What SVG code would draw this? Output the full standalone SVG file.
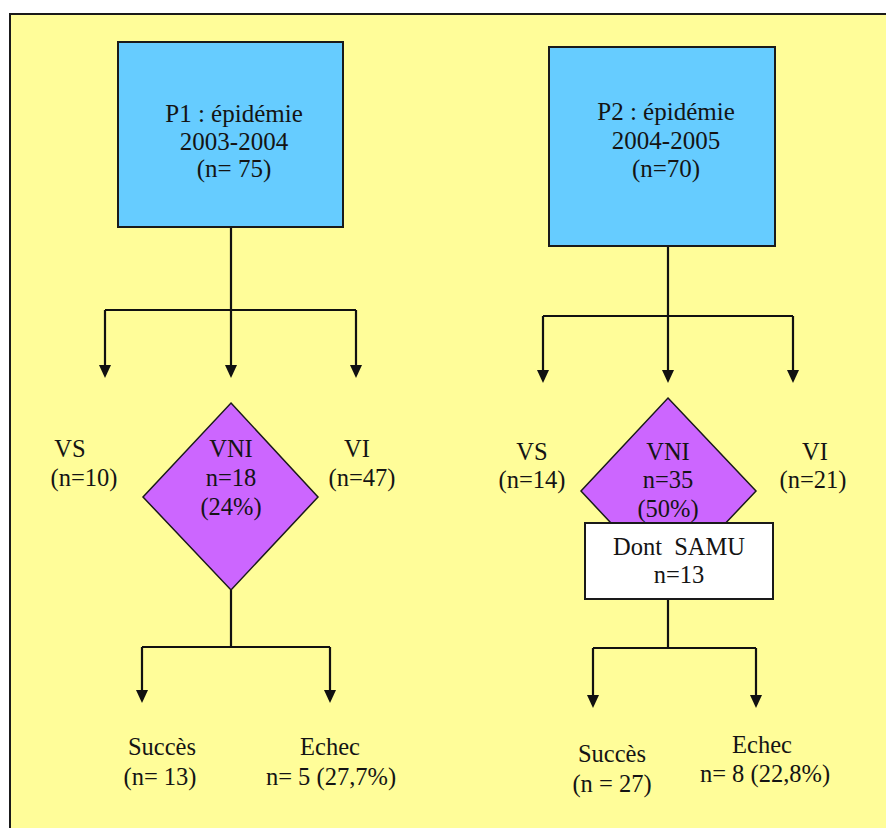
<svg xmlns="http://www.w3.org/2000/svg" width="886" height="828" viewBox="0 0 886 828">
<style>
text{font-family:"Liberation Serif","Times New Roman",serif;font-size:24.5px;fill:#141414;text-anchor:middle}
.bt{font-size:25px}
.box{fill:#66CCFF;stroke:#1a1a1a;stroke-width:2}
.dia{fill:#CC66FF;stroke:#1a1a1a;stroke-width:1.5}
.wbox{fill:#ffffff;stroke:#1a1a1a;stroke-width:2}
.ln{fill:none;stroke:#111;stroke-width:2.2}
.ah{fill:#111}
</style>
<rect x="0" y="0" width="886" height="828" fill="#ffffff"/>
<rect x="10" y="14" width="890" height="830" fill="#FFFD99" stroke="#1a1a1a" stroke-width="2"/>

<g id="connectors">
<path class="ln" d="M231,227 V310 M105,310 H356"/>
<path class="ln" d="M105,310 V366 M231,310 V366 M356,310 V366"/>
<path class="ln" d="M231,590 V647 M142,647 H330 M142,647 V691 M330,647 V691"/>
<path class="ln" d="M668,246 V316 M543,316 H793"/>
<path class="ln" d="M543,316 V371 M668,316 V371 M793,316 V371"/>
<path class="ln" d="M668,599 V648 M593,648 H756 M593,648 V696 M756,648 V696"/>
<polygon class="ah" points="99,365 111,365 105,378"/>
<polygon class="ah" points="225,365 237,365 231,378"/>
<polygon class="ah" points="350,365 362,365 356,378"/>
<polygon class="ah" points="136,690 148,690 142,703"/>
<polygon class="ah" points="324,690 336,690 330,703"/>
<polygon class="ah" points="537,370 549,370 543,383"/>
<polygon class="ah" points="662,370 674,370 668,383"/>
<polygon class="ah" points="787,370 799,370 793,383"/>
<polygon class="ah" points="587,695 599,695 593,708"/>
<polygon class="ah" points="750,695 762,695 756,708"/>
</g>

<g id="p1">
<rect class="box" x="118" y="42" width="225" height="185"/>
<text class="bt" x="234" y="122">P1 : épidémie</text>
<text class="bt" x="234" y="150">2003-2004</text>
<text class="bt" x="234" y="177">(n= 75)</text>
</g>
<g id="p2">
<rect class="box" x="549" y="47" width="226" height="199"/>
<text class="bt" x="666" y="120">P2 : épidémie</text>
<text class="bt" x="666" y="149">2004-2005</text>
<text class="bt" x="666" y="177">(n=70)</text>
</g>

<g id="vs1"><text x="70" y="457">VS</text><text x="84" y="486">(n=10)</text></g>
<g id="vni1">
<polygon class="dia" points="231,403 318,497 231,590 143,497"/>
<text x="231" y="457">VNI</text>
<text x="231" y="486">n=18</text>
<text x="231" y="515">(24%)</text>
</g>
<g id="vi1"><text x="357" y="457">VI</text><text x="362" y="486">(n=47)</text></g>

<g id="vs2"><text x="532" y="460">VS</text><text x="532" y="488">(n=14)</text></g>
<g id="vni2">
<polygon class="dia" points="668,398 756,491 668,584 581,491"/>
<text x="668" y="460">VNI</text>
<text x="668" y="488">n=35</text>
<text x="668" y="517">(50%)</text>
</g>
<g id="vi2"><text x="815" y="460">VI</text><text x="813" y="488">(n=21)</text></g>
<g id="samu">
<rect class="wbox" x="585" y="523" width="188" height="76"/>
<text x="679" y="555">Dont&#160; SAMU</text>
<text x="679" y="583">n=13</text>
</g>

<g id="succes1"><text x="162" y="755">Succès</text><text x="160" y="785">(n= 13)</text></g>
<g id="echec1"><text x="330" y="755">Echec</text><text x="331" y="785">n= 5 (27,7%)</text></g>
<g id="succes2"><text x="612" y="762">Succès</text><text x="612" y="792">(n = 27)</text></g>
<g id="echec2"><text x="762" y="753">Echec</text><text x="765" y="782">n= 8 (22,8%)</text></g>
</svg>
